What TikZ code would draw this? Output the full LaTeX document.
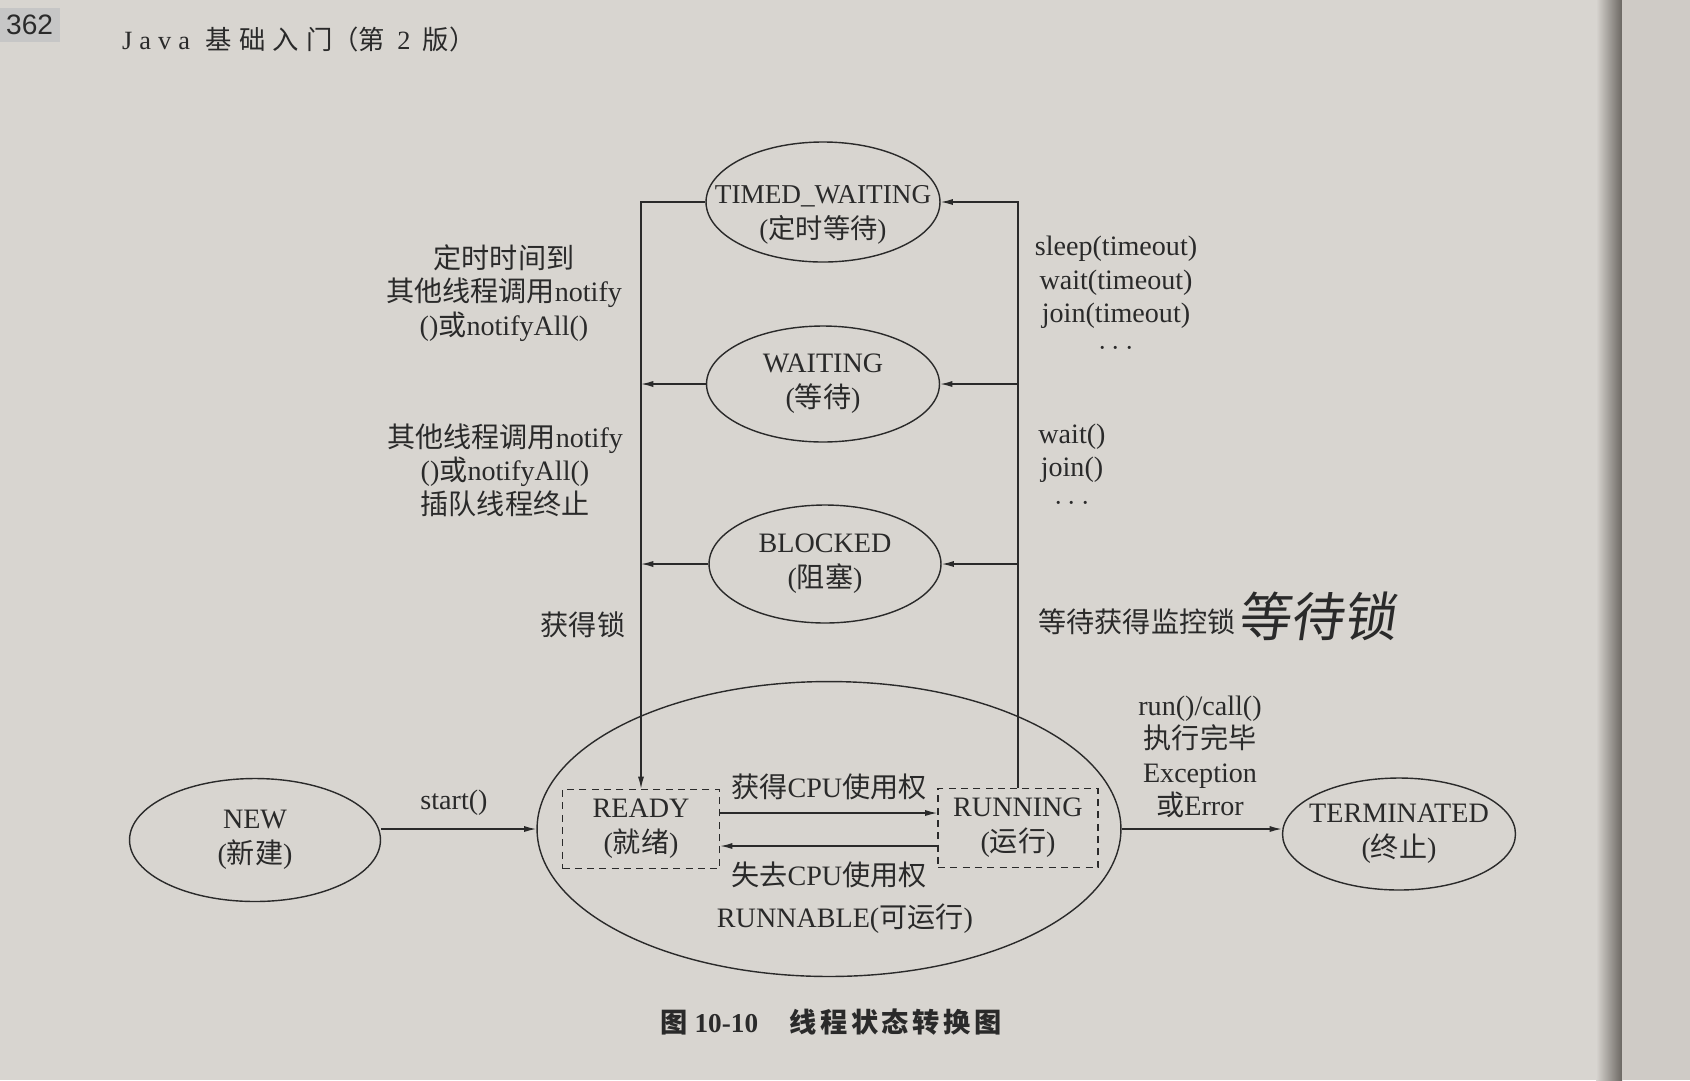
\documentclass[tikz,border=0pt]{standalone}
\usepackage{fontspec}
\setmainfont{Liberation Serif}
\newfontfamily\cjk{Noto Sans CJK SC}
\newfontfamily\headsans{Liberation Sans}
\usetikzlibrary{shapes.geometric,arrows.meta}
\definecolor{paper}{HTML}{D8D5D0}
\definecolor{nextpage}{HTML}{CFCBC6}
\definecolor{gutter}{HTML}{6B6762}
\definecolor{ink}{HTML}{2A2A2A}
\newcommand{\zh}[1]{{\cjk #1}}

\tikzset{
  state/.style={draw=ink, ellipse, line width=0.8pt, align=center, text=ink,
    font=\fontsize{16}{20}\selectfont, inner xsep=-20pt, inner ysep=0pt},
  substate/.style={draw=ink, rectangle, dash pattern=on 4pt off 3pt, line width=0.8pt,
    align=center, text=ink, font=\fontsize{16}{20}\selectfont, inner sep=0pt},
  lbl/.style={text=ink, align=center, font=\fontsize{16}{19}\selectfont, inner sep=0pt},
  wire/.style={draw=ink, line width=0.8pt},
  flow/.style={wire, -{Latex[length=7pt,width=3.5pt]}},
}

\begin{document}
\begin{tikzpicture}[x=0.02cm, y=-0.02cm]
% page
\fill[paper] (0,0) rectangle (1690,1080);
\shade[left color=paper, right color=gutter] (1596,0) rectangle (1622,1080);
\fill[nextpage] (1622,0) rectangle (1690,1080);

% header and caption
\fill[gray!45] (0,8) rectangle (60,42);
\node[text=ink, font=\headsans\fontsize{16}{18}\selectfont, anchor=west] (pageno) at (0,25) {362};
\node[text=ink, font=\fontsize{15}{18}\selectfont, anchor=west] (runhead) at (116,39)
  {J\hspace{4pt}a\hspace{4pt}v\hspace{4pt}a\hspace{9pt}\zh{基\hspace{4pt}础\hspace{4pt}入\hspace{4pt}门（第}\hspace{7pt}2\hspace{7pt}\zh{版）}};
\node[text=ink, font=\bfseries\fontsize{15.5}{20}\selectfont] (caption) at (831,1022)
  {\zh{\bfseries 图} 10-10\hspace{18pt}\zh{\bfseries 线\hspace{2pt}程\hspace{2pt}状\hspace{2pt}态\hspace{2pt}转\hspace{2pt}换\hspace{2pt}图}};

% states
\node[state, font=\fontsize{15.5}{20}\selectfont, minimum width=4.68cm, minimum height=2.4cm] (tw) at (823,202) {\rule{0pt}{25pt}TIMED\_WAITING\\(\zh{定时等待})};
\node[state, minimum width=4.66cm, minimum height=2.32cm] (wt) at (823,384) {WAITING\\(\zh{等待})};
\node[state, minimum width=4.64cm, minimum height=2.36cm] (bl) at (825,564) {BLOCKED\\(\zh{阻塞})};
\node[state, minimum width=11.68cm, minimum height=5.9cm] (runnable) at (829,829) {};
\node[substate, minimum width=3.14cm, minimum height=1.58cm] (ready) at (641,829) {READY\\(\zh{就绪})};
\node[substate, minimum width=3.2cm, minimum height=1.58cm] (running) at (1018,828) {RUNNING\\(\zh{运行})};
\node[state, minimum width=5.02cm, minimum height=2.46cm] (new) at (255,840) {NEW\\(\zh{新建})};
\node[state, minimum width=4.66cm, minimum height=2.24cm] (term) at (1399,834) {TERMINATED\\(\zh{终止})};

% labels
\node[lbl] (backtimed) at (504,293) {\zh{定时时间到}\\\zh{其他线程调用}notify\\()\zh{或}notifyAll()};
\node[lbl] (backwait) at (505,470) {\zh{其他线程调用}notify\\()\zh{或}notifyAll()\\\zh{插队线程终止}};
\node[lbl] (getlock) at (583,625) {\zh{获得锁}};
\node[lbl] (totimed) at (1116,296) {sleep(timeout)\\wait(timeout)\\join(timeout)\\$\cdots$};
\node[lbl] (towait) at (1072,467) {wait()\\join()\\$\cdots$};
\node[lbl] (toblock) at (1137,622) {\zh{等待获得监控锁}};
\node[text=ink, font=\cjk\fontsize{30}{32}\selectfont, xslant=0.15] (handnote) at (1320,616) {等待锁};
\node[lbl] (getcpu) at (829,787) {\zh{获得}CPU\zh{使用权}};
\node[lbl] (losecpu) at (829,875) {\zh{失去}CPU\zh{使用权}};
\node[lbl] (runnabletxt) at (845,919) {RUNNABLE(\zh{可运行})};
\node[lbl] (start) at (454,803) {start()};
\node[lbl] (finish) at (1200,757) {run()/call()\\\zh{执行完毕}\\Exception\\\zh{或}Error};

% left side: back to READY
\draw[flow] (tw.west) -- (tw.west -| ready.north) -- (ready.north);
\draw[flow] (wt.west) -- (wt.west -| ready.north);
\draw[flow] (bl.west) -- (bl.west -| ready.north);

% right side: out of RUNNING
\draw[flow] (running.north) -- (running.north |- tw.east) -- (tw.east);
\draw[flow] (running.north |- wt.east) -- (wt.east);
\draw[flow] (running.north |- bl.east) -- (bl.east);

% inside RUNNABLE
\draw[flow] ([yshift=0.32cm]ready.east) -- ([yshift=0.32cm]ready.east -| running.west);
\draw[flow] ([yshift=-0.36cm]running.west) -- ([yshift=-0.36cm]running.west -| ready.east);

% in and out
\draw[flow] (new.east |- runnable.west) -- (runnable.west);
\draw[flow] (runnable.east) -- (runnable.east -| term.west);
\end{tikzpicture}
\end{document}
